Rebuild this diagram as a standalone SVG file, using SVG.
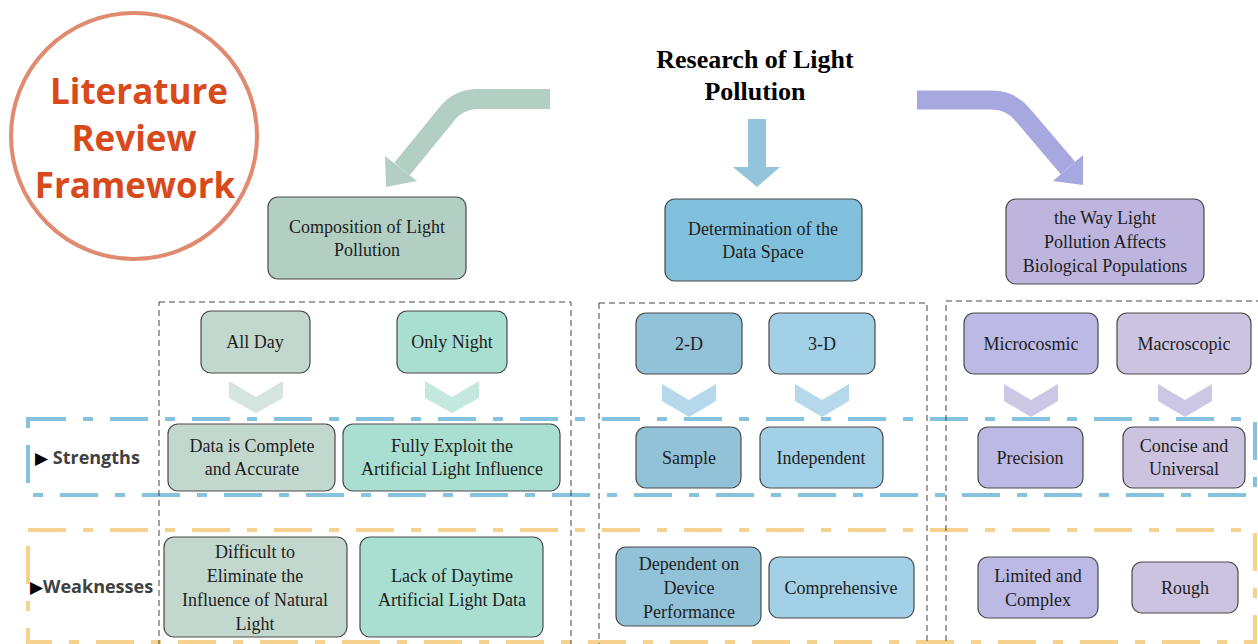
<svg xmlns="http://www.w3.org/2000/svg" width="1258" height="644" viewBox="0 0 1258 644">
<style>
.box{stroke:#4a4a4a;stroke-width:1.2}
.t{font-family:"Liberation Serif","Times New Roman",serif;font-size:18px;fill:#1e1e1e;text-anchor:middle}
.col{fill:none;stroke:#444;stroke-width:1;stroke-dasharray:6 4}
.lab{font-family:"Open Sans","DejaVu Sans",sans-serif;font-weight:700;font-size:18px;fill:#404040}
.tri{font-family:"DejaVu Sans",sans-serif;font-weight:400;font-size:17px;fill:#000}
.g1{fill:#c2d8cf}.g2{fill:#a8dfd0}
.b1{fill:#92c2d8}.b2{fill:#a2d0e6}
.p1{fill:#bcb9e4}.p2{fill:#ccc3e0}
</style>
<rect width="1258" height="644" fill="#ffffff"/>

<g id="framework-title">
<circle cx="134" cy="136" r="123" fill="none" stroke="#e08a70" stroke-width="4"/>
<g font-family="'Open Sans','Noto Sans',sans-serif" font-weight="700" font-size="35" fill="#d84a1b" text-anchor="middle">
<text x="139" y="104">Literature</text>
<text x="134" y="151">Review</text>
<text x="135" y="198">Framework</text>
</g>
</g>

<g id="root">
<g font-family="'Liberation Serif','Times New Roman',serif" font-weight="700" font-size="26" fill="#000" text-anchor="middle">
<text x="755" y="68">Research of Light</text>
<text x="755" y="100">Pollution</text>
</g>
</g>

<g id="bands">
<rect x="28" y="419" width="1227" height="76" fill="none" stroke="#84c2e0" stroke-width="4" stroke-dasharray="38 17 10 17"/>
<rect x="28" y="530" width="1227" height="112" fill="none" stroke="#f5d38e" stroke-width="4" stroke-dasharray="38 17 10 17"/>
<text class="lab" x="35" y="464"><tspan class="tri">▶</tspan> Strengths</text>
<text class="lab" x="30" y="593"><tspan class="tri">▶</tspan>Weaknesses</text>
</g>

<g id="columns">
<rect class="col" x="159" y="302" width="412" height="350"/>
<rect class="col" x="599" y="303" width="328" height="350"/>
<rect class="col" x="946" y="301" width="330" height="350"/>
</g>

<g id="connectors">
<path d="M550,99 L478,99 Q458,99 446,115 L402,169" fill="none" stroke="#b3cfc4" stroke-width="20"/>
<polygon points="386,187 417,181 385,156" fill="#b3cfc4"/>
<rect x="748" y="119" width="18" height="48" fill="#93c4dc"/>
<polygon points="733,167 780,167 757,187" fill="#93c4dc"/>
<path d="M917,100 L992,100 Q1010,100 1022,114 L1068,168" fill="none" stroke="#a8a8e0" stroke-width="19"/>
<polygon points="1083,185 1083,155 1053,181" fill="#a8a8e0"/>
<g id="chevrons">
<polygon points="229,381 256,397 283,381 283,398 256,413 229,398" fill="#d5e5de"/>
<polygon points="425,381 452,397 479,381 479,398 452,413 425,398" fill="#c3e8de"/>
<polygon points="662,384 689,400 716,384 716,401 689,417 662,401" fill="#b5d9ea"/>
<polygon points="795,384 822,400 849,384 849,401 822,417 795,401" fill="#b5d9ea"/>
<polygon points="1004,384 1031,400 1058,384 1058,401 1031,417 1004,401" fill="#ccc7e4"/>
<polygon points="1158,384 1185,400 1212,384 1212,401 1185,417 1158,401" fill="#ccc7e4"/>
</g>
</g>

<g id="n-composition"><rect class="box" x="268" y="197" width="198" height="82" rx="10" fill="#b3cfc4"/>
<text class="t" x="367" y="233">Composition of Light</text><text class="t" x="367" y="256">Pollution</text></g>
<g id="n-dataspace"><rect class="box" x="665" y="199" width="197" height="82" rx="10" fill="#80c0dc"/>
<text class="t" x="763" y="235">Determination of the</text><text class="t" x="763" y="258">Data Space</text></g>
<g id="n-way"><rect class="box" x="1006" y="199" width="198" height="85" rx="10" fill="#bdb5de"/>
<text class="t" x="1105" y="224">the Way Light</text><text class="t" x="1105" y="248">Pollution Affects</text><text class="t" x="1105" y="272">Biological Populations</text></g>

<g id="n-allday"><rect class="box g1" x="201" y="311" width="109" height="62" rx="10"/><text class="t" x="255" y="348">All Day</text></g>
<g id="n-onlynight"><rect class="box g2" x="397" y="311" width="110" height="62" rx="10"/><text class="t" x="452" y="348">Only Night</text></g>
<g id="n-complete"><rect class="box g1" x="168" y="424" width="167" height="67" rx="10"/><text class="t" x="252" y="452">Data is Complete</text><text class="t" x="252" y="475">and Accurate</text></g>
<g id="n-exploit"><rect class="box g2" x="343" y="424" width="217" height="67" rx="10"/><text class="t" x="452" y="452">Fully Exploit the</text><text class="t" x="452" y="475">Artificial Light Influence</text></g>
<g id="n-difficult"><rect class="box g1" x="164" y="537" width="183" height="100" rx="10"/><text class="t" x="255" y="558">Difficult to</text><text class="t" x="255" y="582">Eliminate the</text><text class="t" x="255" y="606">Influence of Natural</text><text class="t" x="255" y="630">Light</text></g>
<g id="n-lack"><rect class="box g2" x="360" y="537" width="183" height="100" rx="10"/><text class="t" x="452" y="582">Lack of Daytime</text><text class="t" x="452" y="606">Artificial Light Data</text></g>

<g id="n-2d"><rect class="box b1" x="636" y="313" width="106" height="61" rx="10"/><text class="t" x="689" y="350">2-D</text></g>
<g id="n-3d"><rect class="box b2" x="769" y="313" width="106" height="61" rx="10"/><text class="t" x="822" y="350">3-D</text></g>
<g id="n-sample"><rect class="box b1" x="636" y="427" width="105" height="61" rx="10"/><text class="t" x="689" y="464">Sample</text></g>
<g id="n-independent"><rect class="box b2" x="760" y="427" width="123" height="61" rx="10"/><text class="t" x="821" y="464">Independent</text></g>
<g id="n-dependent"><rect class="box b1" x="616" y="547" width="145" height="79" rx="10"/><text class="t" x="689" y="570">Dependent on</text><text class="t" x="689" y="594">Device</text><text class="t" x="689" y="618">Performance</text></g>
<g id="n-comprehensive"><rect class="box b2" x="769" y="557" width="145" height="61" rx="10"/><text class="t" x="841" y="594">Comprehensive</text></g>

<g id="n-micro"><rect class="box p1" x="964" y="313" width="134" height="61" rx="10"/><text class="t" x="1031" y="350">Microcosmic</text></g>
<g id="n-macro"><rect class="box p2" x="1117" y="313" width="134" height="61" rx="10"/><text class="t" x="1184" y="350">Macroscopic</text></g>
<g id="n-precision"><rect class="box p1" x="978" y="427" width="105" height="61" rx="10"/><text class="t" x="1030" y="464">Precision</text></g>
<g id="n-concise"><rect class="box p2" x="1123" y="427" width="122" height="61" rx="10"/><text class="t" x="1184" y="452">Concise and</text><text class="t" x="1184" y="475">Universal</text></g>
<g id="n-limited"><rect class="box p1" x="978" y="557" width="120" height="61" rx="10"/><text class="t" x="1038" y="582">Limited and</text><text class="t" x="1038" y="606">Complex</text></g>
<g id="n-rough"><rect class="box p2" x="1132" y="562" width="106" height="51" rx="10"/><text class="t" x="1185" y="594">Rough</text></g>
</svg>
